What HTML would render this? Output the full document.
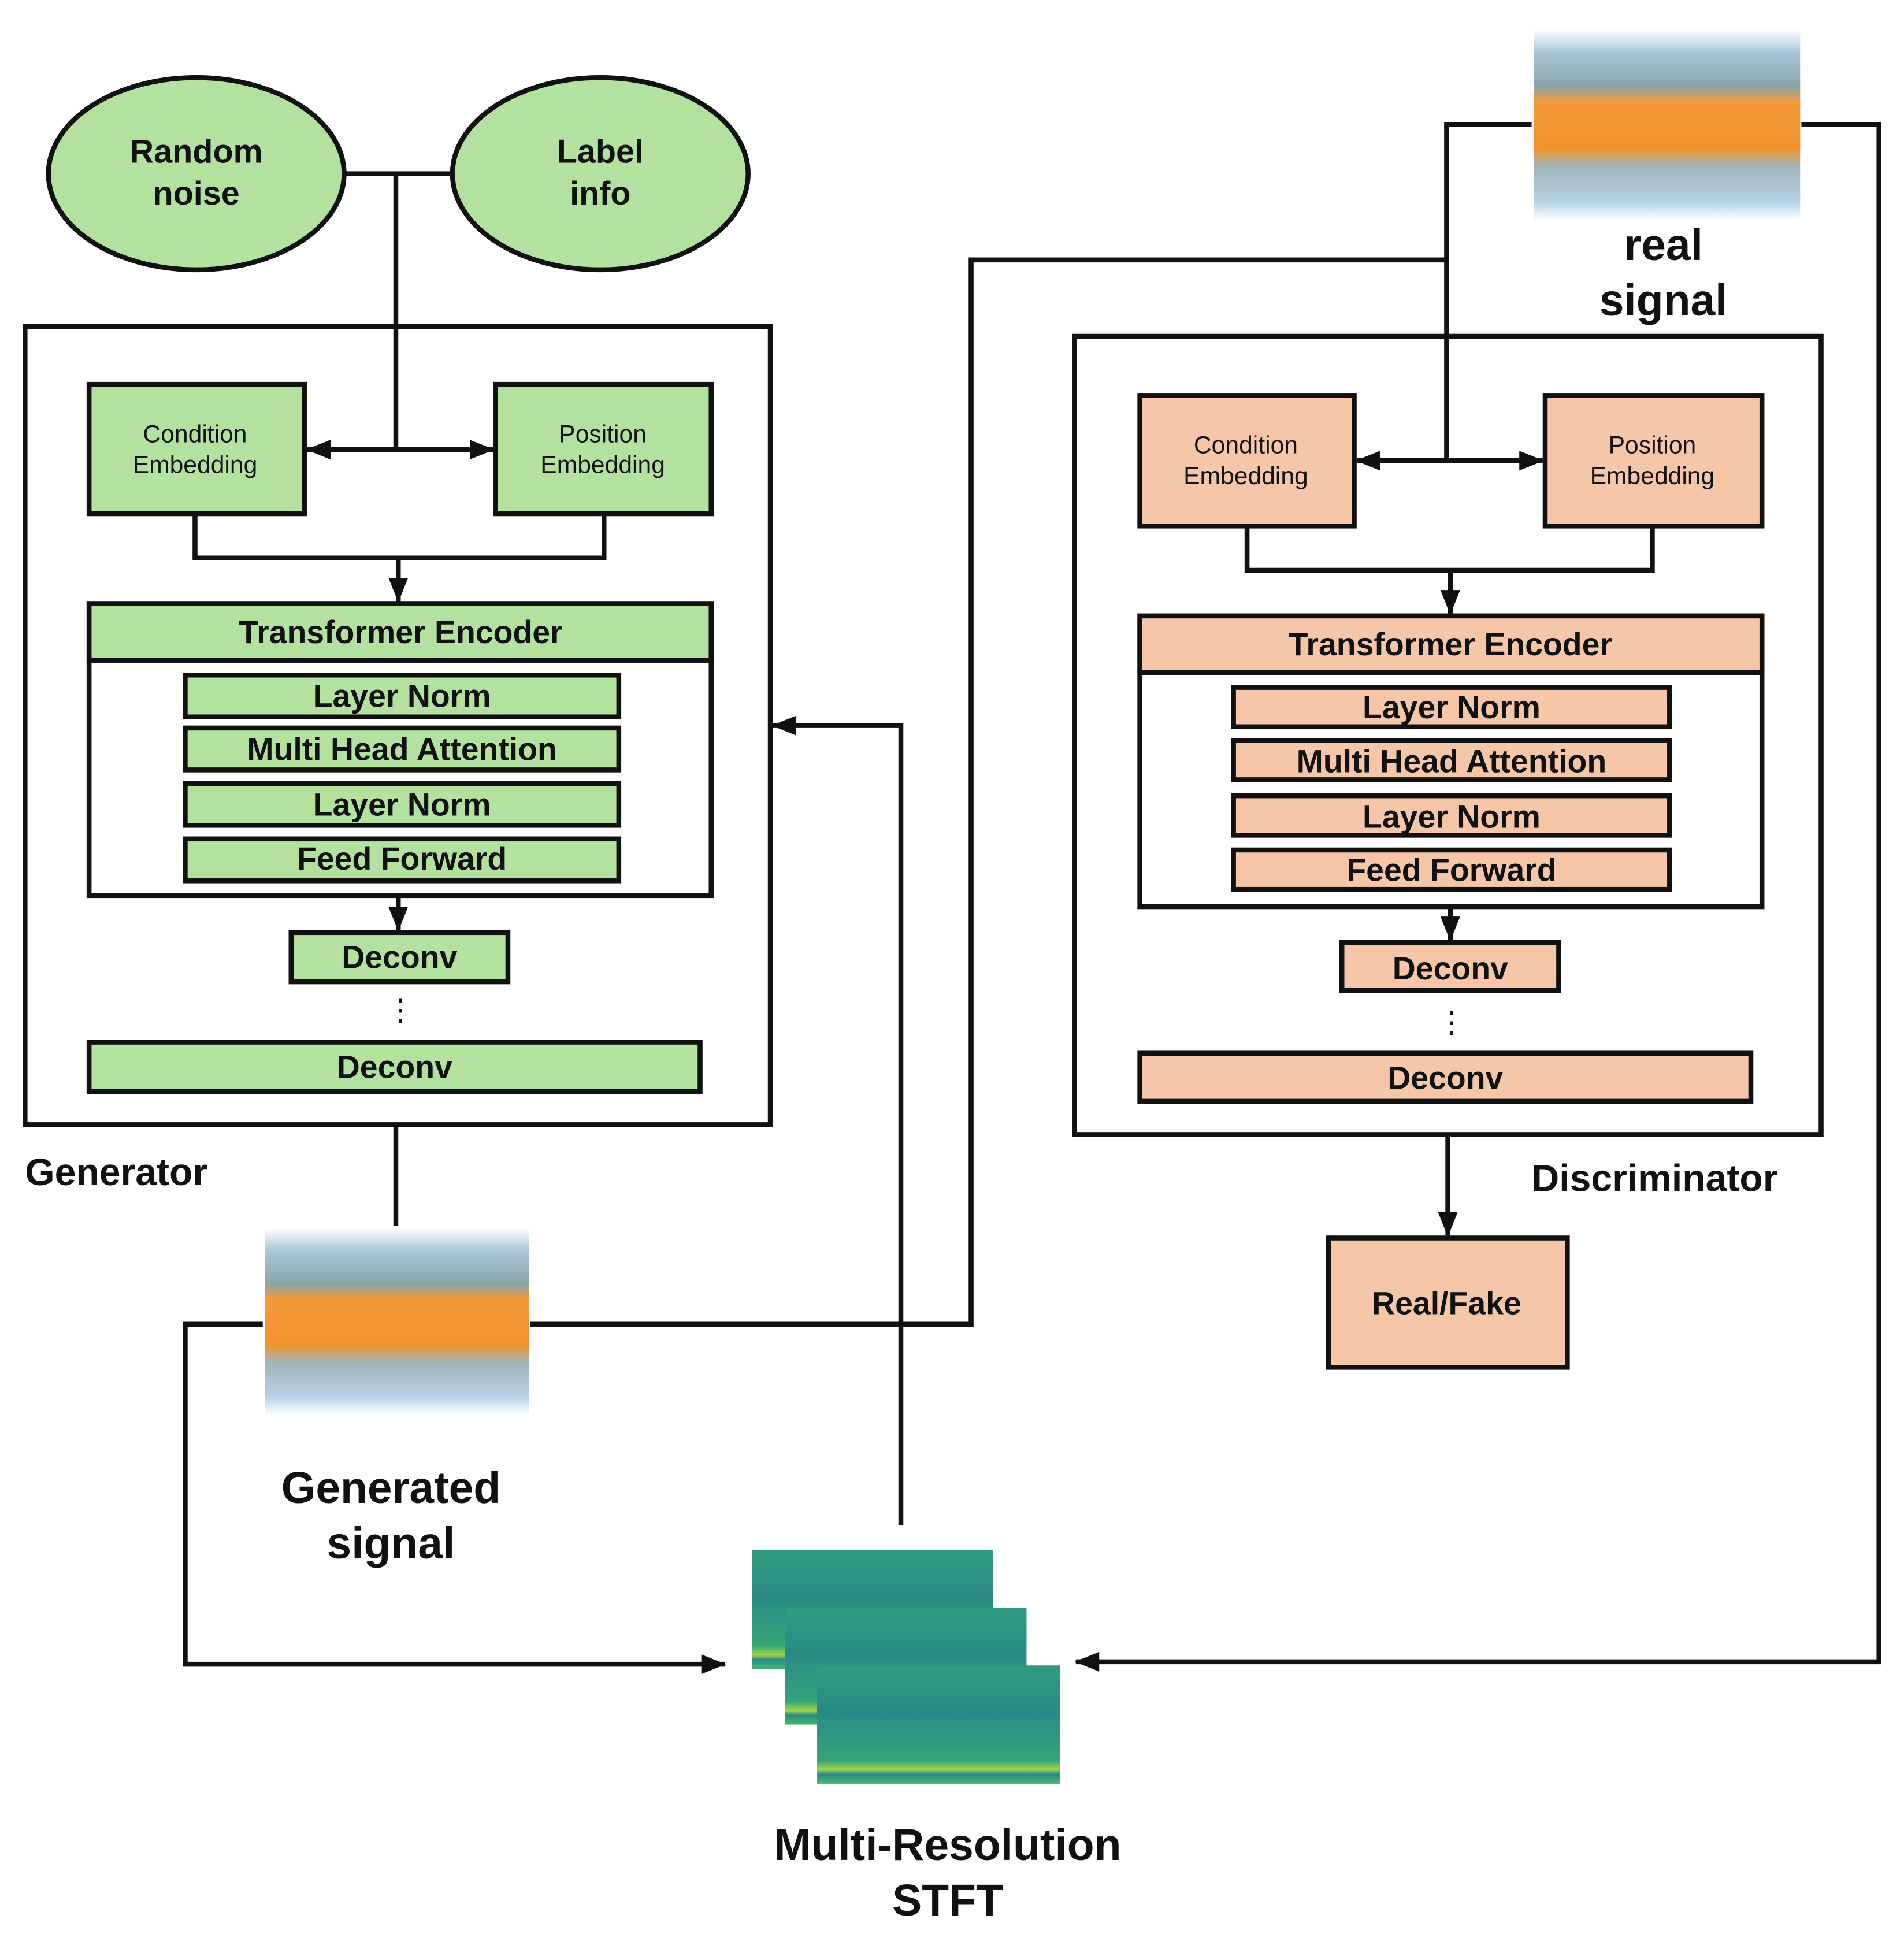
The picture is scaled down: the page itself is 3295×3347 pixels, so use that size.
<!DOCTYPE html>
<html><head><meta charset="utf-8"><style>
html,body{margin:0;padding:0;background:#fff}
svg{display:block}
text{font-family:"Liberation Sans",sans-serif;fill:#111}
</style></head><body>
<svg width="3295" height="3347" viewBox="0 0 1545 1570" xmlns="http://www.w3.org/2000/svg">
<defs>
<marker id="ar" markerWidth="10" markerHeight="10" refX="9" refY="5" orient="auto" markerUnits="userSpaceOnUse"><path d="M0,0 L10,5 L0,10 z" fill="#111"/></marker>
<marker id="ar2" markerWidth="20" markerHeight="16" refX="19" refY="8" orient="auto" markerUnits="userSpaceOnUse"><path d="M0,0 L20,8 L0,16 z" fill="#111"/></marker>
<linearGradient id="sig" x1="0" y1="0" x2="0" y2="1">
<stop offset="0" stop-color="#fff"/><stop offset="0.12" stop-color="#a9c8dc"/><stop offset="0.3" stop-color="#8aa4a8"/><stop offset="0.38" stop-color="#f29a3a"/><stop offset="0.62" stop-color="#f3922a"/><stop offset="0.72" stop-color="#9fb6b8"/><stop offset="0.9" stop-color="#b7d2e6"/><stop offset="1" stop-color="#fff"/></linearGradient>
<linearGradient id="spec" x1="0" y1="0" x2="0" y2="1">
<stop offset="0" stop-color="#2f9c7e"/><stop offset="0.4" stop-color="#2a8a86"/><stop offset="0.8" stop-color="#33a57a"/><stop offset="0.88" stop-color="#9ed44a"/><stop offset="0.92" stop-color="#2b8a84"/><stop offset="1" stop-color="#46b870"/></linearGradient>
</defs>
<g stroke="#111" stroke-width="4" fill="none">
<!-- top ellipses -->
<ellipse cx="159" cy="141" rx="120" ry="78" fill="#b3e2a0"/>
<ellipse cx="487" cy="141" rx="120" ry="78" fill="#b3e2a0"/>
<path d="M279,141 H367 M321,141 V365"/>
<!-- generator -->
<rect x="20" y="265" width="605" height="648"/>
<rect x="72" y="312" width="175" height="105" fill="#b3e2a0"/>
<rect x="402" y="312" width="175" height="105" fill="#b3e2a0"/>
<path d="M321,365 H249" marker-end="url(#ar2)"/>
<path d="M321,365 H400" marker-end="url(#ar2)"/>
<path d="M158,417 V453 H490 V417"/>
<path d="M323,453 V488" marker-end="url(#ar2)"/>
<rect x="72" y="490" width="505" height="237"/>
<rect x="72" y="490" width="505" height="46" fill="#b3e2a0"/>
<rect x="150" y="548" width="352" height="34" fill="#b3e2a0"/>
<rect x="150" y="591" width="352" height="34" fill="#b3e2a0"/>
<rect x="150" y="636" width="352" height="34" fill="#b3e2a0"/>
<rect x="150" y="681" width="352" height="34" fill="#b3e2a0"/>
<path d="M323,727 V755" marker-end="url(#ar2)"/>
<rect x="236" y="757" width="176" height="40" fill="#b3e2a0"/>
<rect x="72" y="846" width="496" height="40" fill="#b3e2a0"/>
<path d="M321,913 V995"/>
<!-- discriminator -->
<rect x="872" y="273" width="606" height="648"/>
<rect x="925" y="321" width="174" height="106" fill="#f5c6a8"/>
<rect x="1254" y="321" width="176" height="106" fill="#f5c6a8"/>
<path d="M1174,374 H1101" marker-end="url(#ar2)"/>
<path d="M1174,374 H1252" marker-end="url(#ar2)"/>
<path d="M1012,427 V463 H1341 V427"/>
<path d="M1177,463 V498" marker-end="url(#ar2)"/>
<rect x="925" y="500" width="505" height="236"/>
<rect x="925" y="500" width="505" height="46" fill="#f5c6a8"/>
<rect x="1001" y="558" width="354" height="32" fill="#f5c6a8"/>
<rect x="1001" y="601" width="354" height="32" fill="#f5c6a8"/>
<rect x="1001" y="646" width="354" height="32" fill="#f5c6a8"/>
<rect x="1001" y="690" width="354" height="32" fill="#f5c6a8"/>
<path d="M1177,736 V763" marker-end="url(#ar2)"/>
<rect x="1089" y="765" width="176" height="39" fill="#f5c6a8"/>
<rect x="925" y="855" width="496" height="39" fill="#f5c6a8"/>
<path d="M1175,921 V1003" marker-end="url(#ar2)"/>
<rect x="1078" y="1005" width="194" height="105" fill="#f5c6a8"/>
<!-- connectors -->
<path d="M213,1075 H150 V1351 H588" marker-end="url(#ar2)"/>
<path d="M430,1075 H788 V211 H1174"/>
<path d="M1243,101 H1174 V374"/>
<path d="M1462,101 H1525 V1349 H873" marker-end="url(#ar2)"/>
<path d="M731,1238 V589 H627" marker-end="url(#ar2)"/>
</g>
<!-- signal images -->
<rect x="215" y="997" width="214" height="152" fill="url(#sig)"/>
<rect x="1245" y="24" width="216" height="155" fill="url(#sig)"/>
<!-- spectrograms -->
<rect x="610" y="1258" width="196" height="97" fill="url(#spec)"/>
<rect x="637" y="1305" width="196" height="95" fill="url(#spec)"/>
<rect x="663" y="1352" width="197" height="96" fill="url(#spec)"/>
<!-- texts -->
<g text-anchor="middle" font-weight="bold">
<text x="159" y="132" font-size="27">Random</text>
<text x="159" y="166" font-size="27">noise</text>
<text x="487" y="132" font-size="27">Label</text>
<text x="487" y="166" font-size="27">info</text>
<g font-size="20" font-weight="normal">
<text x="158" y="359">Condition</text><text x="158" y="384">Embedding</text>
<text x="489" y="359">Position</text><text x="489" y="384">Embedding</text>
<text x="1011" y="368">Condition</text><text x="1011" y="393">Embedding</text>
<text x="1341" y="368">Position</text><text x="1341" y="393">Embedding</text>
</g>
<g font-size="26">
<text x="325" y="522">Transformer Encoder</text>
<text x="326" y="574">Layer Norm</text>
<text x="326" y="617">Multi Head Attention</text>
<text x="326" y="662">Layer Norm</text>
<text x="326" y="706">Feed Forward</text>
<text x="324" y="786">Deconv</text>
<text x="320" y="875">Deconv</text>
<text x="1177" y="532">Transformer Encoder</text>
<text x="1178" y="583">Layer Norm</text>
<text x="1178" y="627">Multi Head Attention</text>
<text x="1178" y="672">Layer Norm</text>
<text x="1178" y="715">Feed Forward</text>
<text x="1177" y="795">Deconv</text>
<text x="1173" y="884">Deconv</text>
<text x="1174" y="1067">Real/Fake</text>
</g>
<text x="325" y="828" font-size="24" font-weight="normal">⋮</text>
<text x="1178" y="838" font-size="24" font-weight="normal">⋮</text>
<text x="317" y="1220" font-size="36">Generated</text>
<text x="317" y="1265" font-size="36">signal</text>
<text x="1350" y="211" font-size="36">real</text>
<text x="1350" y="256" font-size="36">signal</text>
<text x="769" y="1510" font-size="36">Multi-Resolution</text>
<text x="769" y="1555" font-size="36">STFT</text>
</g>
<text x="20" y="962" font-size="31" font-weight="bold">Generator</text>
<text x="1243" y="967" font-size="31" font-weight="bold">Discriminator</text>
</svg>
</body></html>
